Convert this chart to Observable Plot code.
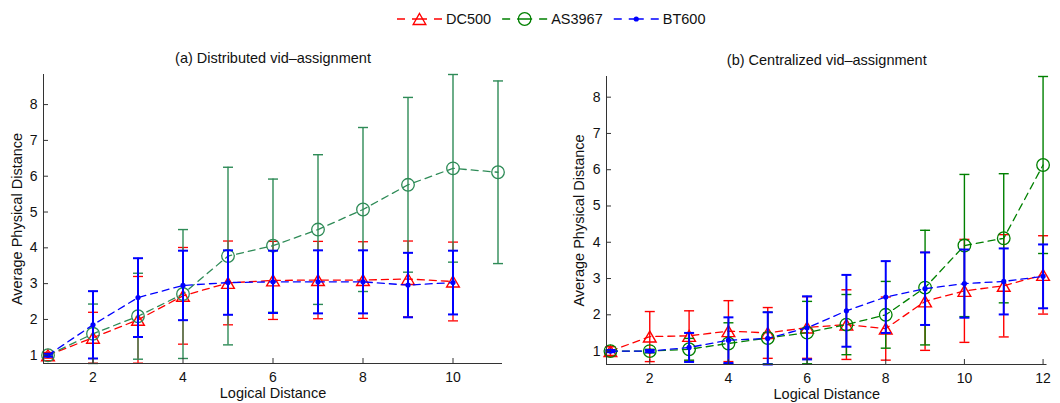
<!DOCTYPE html>
<html>
<head>
<meta charset="utf-8">
<script src="https://cdn.jsdelivr.net/npm/d3@7"></script>
<script src="https://cdn.jsdelivr.net/npm/@observablehq/plot@0.6"></script>
<style>
  body { margin: 0; background: #fff; font-family: "Liberation Sans", Arial, sans-serif; }
  #chart { position: relative; width: 1060px; height: 403px; overflow: hidden; background: #fff; }
  #legend { position: absolute; left: 0; top: 0; }
  #panels { position: absolute; left: 0; top: 40px; display: flex; }
</style>
</head>
<body>
<div id="chart">
  <svg id="legend" width="1060" height="40"></svg>
  <div id="panels"></div>
</div>
<script>
// Series names and colours
const seriesNames = ["DC500", "AS3967", "BT600"];
const seriesColors = ["#ff0000", "#008000", "#0000ff"];

// Panel titles and axis labels
const panelTitles = ["(a) Distributed vid\u2013assignment", "(b) Centralized vid\u2013assignment"];
const xLabel = "Logical Distance";
const yLabel = "Average Physical Distance";

// Tick values
const xTicksA = [2, 4, 6, 8, 10];
const xTicksB = [2, 4, 6, 8, 10, 12];
const yTicks = [1, 2, 3, 4, 5, 6, 7, 8];

// (a) Distributed vid-assignment: mean and error half-width per logical distance
const distA = [1, 2, 3, 4, 5, 6, 7, 8, 9, 10, 11];
const dcA    = [1.00, 1.49, 1.99, 2.66, 3.02, 3.09, 3.10, 3.10, 3.13, 3.06];
const dcAErr = [0.08, 0.71, 1.21, 1.35, 1.17, 1.09, 1.08, 1.07, 1.06, 1.10];
const asA    = [1.00, 1.60, 2.09, 2.71, 3.77, 4.06, 4.51, 5.07, 5.76, 6.22, 6.11];
const asAErr = [0.00, 0.83, 1.20, 1.80, 2.48, 1.86, 2.09, 2.29, 2.44, 2.62, 2.55];
const btA    = [1.00, 1.85, 2.61, 2.95, 3.03, 3.05, 3.05, 3.05, 2.96, 3.03];
const btAErr = [0.04, 0.94, 1.10, 0.97, 0.90, 0.87, 0.88, 0.88, 0.90, 0.89];

// (b) Centralized vid-assignment
const distB = [1, 2, 3, 4, 5, 6, 7, 8, 9, 10, 11, 12];
const dcB    = [1.00, 1.40, 1.42, 1.55, 1.50, 1.65, 1.73, 1.62, 2.37, 2.66, 2.80, 3.10];
const dcBErr = [0.12, 0.69, 0.69, 0.84, 0.70, 0.85, 0.96, 0.87, 1.35, 1.42, 1.41, 1.08];
const asB    = [1.00, 1.00, 1.05, 1.21, 1.36, 1.51, 1.73, 2.00, 2.75, 3.91, 4.11, 6.13];
const asBErr = [0.02, 0.05, 0.30, 0.57, 0.71, 0.86, 0.83, 0.92, 1.58, 1.96, 1.78, 2.44];
const btB    = [1.00, 1.00, 1.10, 1.30, 1.35, 1.64, 2.11, 2.49, 2.72, 2.86, 2.92, 3.06];
const btBErr = [0.03, 0.03, 0.40, 0.63, 0.72, 0.87, 0.99, 0.99, 1.00, 0.94, 0.91, 0.88];

const fontFamily = '"Liberation Sans", Arial, Helvetica, sans-serif';

function rows(xs, means, errs) {
  return means.map((m, i) => ({x: xs[i], y: m, lo: m - errs[i], hi: m + errs[i]}));
}

// Horizontal cap for error bars (half-width = r)
const capSymbol = {
  draw(context, size) {
    const w = Math.sqrt(size / Math.PI);
    context.moveTo(-w, 0);
    context.lineTo(w, 0);
  }
};
// Upward triangle centred on its bounding box
const triangleSymbol = {
  draw(context, size) {
    const r = Math.sqrt(size / Math.PI);
    const w = r * 1.35, h = r * 1.17;
    context.moveTo(0, -h);
    context.lineTo(w, h);
    context.lineTo(-w, h);
    context.closePath();
  }
};

function markerMarks(data, kind, color) {
  if (kind === "triangle")
    return Plot.dot(data, {x: "x", y: "y", symbol: triangleSymbol, r: 4.7, stroke: color, fill: "none", strokeWidth: 1.4});
  if (kind === "circle")
    return Plot.dot(data, {x: "x", y: "y", symbol: "circle", r: 6.3, stroke: color, fill: "none", strokeWidth: 1.3});
  return Plot.dot(data, {x: "x", y: "y", symbol: "circle", r: 2.6, fill: color, stroke: "none"});
}

function panel({title, xDomain, xTicks, series, margins, yLabelDx}) {
  const all = series.flatMap(s => s.data);
  const yDomain = [d3.min(all, d => d.lo), d3.max(all, d => d.hi)];
  const marks = [];
  for (const s of series) {
    marks.push(
      Plot.ruleX(s.data, {x: "x", y1: "lo", y2: "hi", stroke: s.color, strokeWidth: s.barWidth}),
      Plot.dot(s.data, {x: "x", y: "lo", symbol: capSymbol, r: 5, stroke: s.color, fill: "none", strokeWidth: s.barWidth}),
      Plot.dot(s.data, {x: "x", y: "hi", symbol: capSymbol, r: 5, stroke: s.color, fill: "none", strokeWidth: s.barWidth}),
      Plot.line(s.data, {x: "x", y: "y", stroke: s.color, strokeWidth: 1.3, strokeDasharray: "7,5"}),
      markerMarks(s.data, s.kind, s.color)
    );
  }
  marks.push(
    Plot.ruleY([yDomain[0]], {stroke: "#333", strokeWidth: 1}),
    Plot.ruleX([xDomain[0]], {stroke: "#333", strokeWidth: 1}),
    Plot.axisX(xTicks, {tickSize: -5, tickPadding: 14, label: null, stroke: "#333", fill: "#111"}),
    Plot.axisY(yTicks, {tickSize: -5, tickPadding: 11, label: null, stroke: "#333", fill: "#111"}),
    Plot.text([title], {text: d => d, frameAnchor: "top", dy: -16, lineAnchor: "middle", textAnchor: "middle", fontSize: 14.5, fill: "#111"}),
    Plot.text([xLabel], {text: d => d, frameAnchor: "bottom", dy: 30, lineAnchor: "middle", textAnchor: "middle", fontSize: 14.5, fill: "#111"}),
    Plot.text([yLabel], {text: d => d, frameAnchor: "left", dx: yLabelDx, rotate: -90, lineAnchor: "middle", textAnchor: "middle", fontSize: 14.5, fill: "#111"})
  );
  return Plot.plot({
    width: 530,
    height: 363,
    ...margins,
    style: {fontFamily, fontSize: "14px", background: "#fff", overflow: "visible"},
    x: {domain: xDomain},
    y: {domain: yDomain},
    marks
  });
}

const panelA = panel({
  title: panelTitles[0],
  xDomain: [0.9, 11.1],
  xTicks: xTicksA,
  margins: {marginLeft: 43, marginRight: 28, marginTop: 34, marginBottom: 40},
  yLabelDx: -26,
  series: [
    {data: rows(distA, dcA, dcAErr), color: seriesColors[0], kind: "triangle", barWidth: 1.3},
    {data: rows(distA, asA, asAErr), color: "#2e8b57", kind: "circle", barWidth: 1.4},
    {data: rows(distA, btA, btAErr), color: seriesColors[2], kind: "dot", barWidth: 2}
  ]
});

const panelB = panel({
  title: panelTitles[1],
  xDomain: [0.9, 12.1],
  xTicks: xTicksB,
  margins: {marginLeft: 76, marginRight: 13.5, marginTop: 36, marginBottom: 39},
  yLabelDx: -27,
  series: [
    {data: rows(distB, dcB, dcBErr), color: seriesColors[0], kind: "triangle", barWidth: 1.4},
    {data: rows(distB, asB, asBErr), color: seriesColors[1], kind: "circle", barWidth: 1.4},
    {data: rows(distB, btB, btBErr), color: seriesColors[2], kind: "dot", barWidth: 2}
  ]
});

document.getElementById("panels").append(panelA, panelB);

// Legend: dashed segment with the series marker, followed by the name
const legend = d3.select("#legend");
const kinds = ["triangle", "circle", "dot"];
let cursor = 397;
const cy = 19;
seriesNames.forEach((name, i) => {
  const color = seriesColors[i];
  const g = legend.append("g");
  g.append("line")
    .attr("x1", cursor).attr("x2", cursor + 45).attr("y1", cy).attr("y2", cy)
    .attr("stroke", color).attr("stroke-width", 1.3)
    .attr("stroke-dasharray", "8,7,15,7,8");
  const mx = cursor + 22.5;
  if (kinds[i] === "triangle") {
    g.append("path").attr("d", `M${mx},${cy - 5.5}L${mx + 6.3},${cy + 5.5}L${mx - 6.3},${cy + 5.5}Z`)
      .attr("fill", "none").attr("stroke", color).attr("stroke-width", 1.4);
  } else if (kinds[i] === "circle") {
    g.append("circle").attr("cx", mx).attr("cy", cy).attr("r", 6.3)
      .attr("fill", "none").attr("stroke", color).attr("stroke-width", 1.3);
  } else {
    g.append("circle").attr("cx", mx).attr("cy", cy).attr("r", 2.6).attr("fill", color);
  }
  const t = g.append("text")
    .attr("x", cursor + 49).attr("y", cy).attr("dy", "0.35em")
    .attr("font-family", fontFamily).attr("font-size", 14.5).attr("fill", "#111")
    .text(name);
  cursor += 49 + t.node().getComputedTextLength() + 11;
});
</script>
</body>
</html>
